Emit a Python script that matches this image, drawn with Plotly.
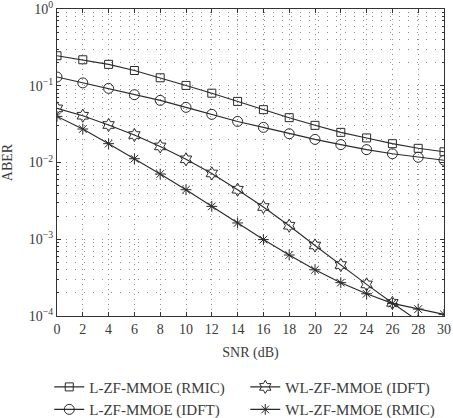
import plotly.graph_objects as go

snr = [0, 2, 4, 6, 8, 10, 12, 14, 16, 18, 20, 22, 24, 26, 28, 30]

l_rmic = [0.246, 0.218, 0.19, 0.158, 0.127, 0.101, 0.080, 0.0625, 0.0488, 0.0384,
          0.0305, 0.0247, 0.0209, 0.0176, 0.0153, 0.0138]
l_idft = [0.130, 0.109, 0.0925, 0.0764, 0.0645, 0.0523, 0.0424, 0.0343, 0.0287, 0.0237,
          0.0200, 0.0171, 0.0147, 0.0130, 0.0117, 0.0107]
wl_idft = [0.0507, 0.0407, 0.0308, 0.0228, 0.0162, 0.0110, 0.0072, 0.00442, 0.00263, 0.00150,
           0.00083, 0.000461, 0.000258, 0.000148, 0.000085, 0.00005]
wl_rmic = [0.0399, 0.0273, 0.0176, 0.0112, 0.00708, 0.00442, 0.00268, 0.00163, 0.00099, 0.000623,
           0.000400, 0.000272, 0.000195, 0.000146, 0.000123, 0.000105]

series = [
    ("L-ZF-MMOE (RMIC)", l_rmic, "square-open", 8),
    ("WL-ZF-MMOE (IDFT)", wl_idft, "hexagram-open", 10),
    ("L-ZF-MMOE (IDFT)", l_idft, "circle-open", 10),
    ("WL-ZF-MMOE (RMIC)", wl_rmic, "asterisk-open", 9),
]

ytick_vals = [1e-4, 1e-3, 1e-2, 1e-1, 1]
ytick_text = ["10<sup>\u22124</sup>", "10<sup>\u22123</sup>", "10<sup>\u22122</sup>",
              "10<sup>\u22121</sup>", "10<sup>0</sup>"]

FONT = "Liberation Serif"
col = "#2a2a2a"
txt = "#3a3a3a"
gcol = "#8c8c8c"

fig = go.Figure()
for name, vals, sym, size in series:
    fig.add_trace(go.Scatter(
        x=snr, y=vals, name=name, mode="lines+markers",
        line=dict(color=col, width=1.1),
        marker=dict(symbol=sym, size=size, color=col, line=dict(color=col, width=1)),
        cliponaxis=True,
    ))

fig.update_layout(
    width=453, height=418,
    margin=dict(l=57, r=9, t=9, b=102, autoexpand=False),
    paper_bgcolor="white", plot_bgcolor="white",
    font=dict(family=FONT, size=14, color=txt),
    showlegend=True,
    legend=dict(orientation="h", x=-0.02, xanchor="left", y=-0.178, yanchor="top",
                entrywidth=151, entrywidthmode="pixels",
                font=dict(family=FONT, size=15, color=txt),
                tracegroupgap=0, itemwidth=30, bgcolor="rgba(0,0,0,0)"),
    xaxis=dict(range=[0, 30], tickvals=snr, ticks="inside", ticklen=4, tickcolor="#333",
               showline=True, linecolor="#333", linewidth=1, mirror="ticks",
               showgrid=True, gridcolor=gcol, griddash="1px,4px", gridwidth=1,
               ticklabeloverflow="allow",
               title=dict(text="SNR (dB)", standoff=11, font=dict(family=FONT, size=14, color=txt)),
               zeroline=False, tickfont=dict(family=FONT, size=14, color=txt)),
    yaxis=dict(type="log", range=[-4, 0], tickvals=ytick_vals, ticktext=ytick_text,
               ticks="inside", ticklen=4, tickcolor="#333",
               showline=True, linecolor="#333", linewidth=1, mirror="ticks",
               showgrid=True, gridcolor=gcol, griddash="1px,8px", gridwidth=1,
               ticklabeloverflow="allow",
               minor=dict(dtick="D1", showgrid=True, gridcolor=gcol, griddash="1px,8px",
                          ticks="inside", ticklen=2, tickcolor="#333"),
               title=dict(text="ABER", standoff=15, font=dict(family=FONT, size=14, color=txt)),
               zeroline=False, tickfont=dict(family=FONT, size=14, color=txt)),
)

fig.write_html("out.html")
